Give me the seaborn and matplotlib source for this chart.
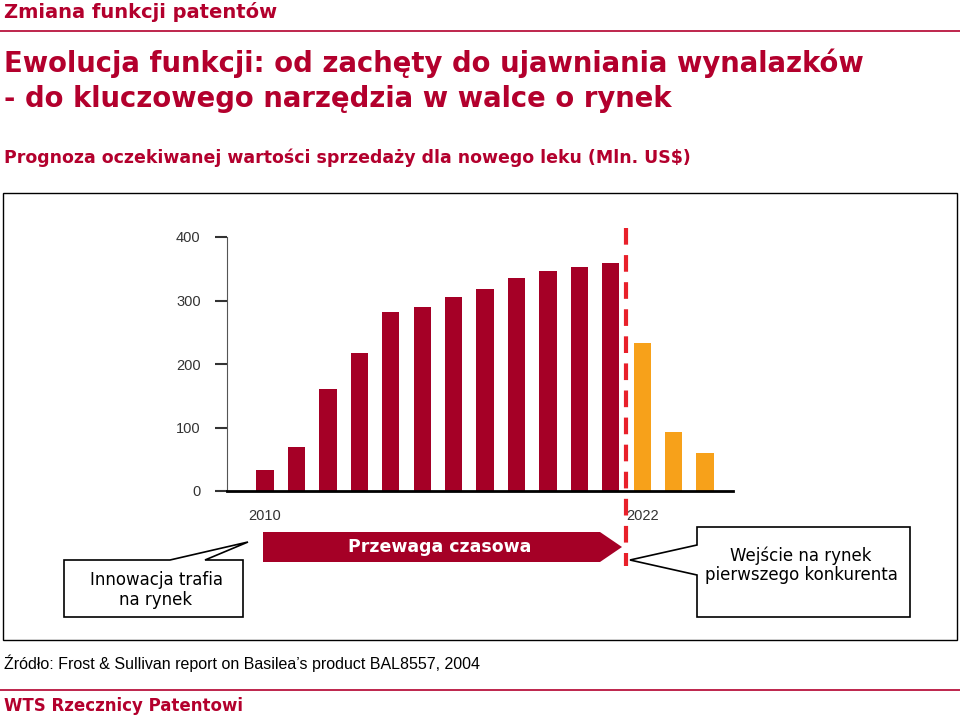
import matplotlib
matplotlib.use("Agg")
import matplotlib.pyplot as plt
import seaborn as sns
import pandas as pd
from matplotlib.patches import Rectangle, Polygon

years = [str(y) for y in range(2010, 2025)]
values = [33, 69, 161, 217, 282, 290, 305, 318, 335, 346, 353, 359, 233, 93, 60]
phase = ["przed"] * 12 + ["po"] * 3
yticks = [0, 100, 200, 300, 400]

RED = "#A50026"
ORANGE = "#F7A11A"
TITLE = "#B3002D"

W, H = 960, 717
fig = plt.figure(figsize=(9.6, 7.17), dpi=100)

def fx(x):
    return x / W

def fy(y):
    return 1 - y / H

# naglowki
fig.text(fx(4), fy(12), "Zmiana funkcji patentów", color=TITLE, fontsize=14, fontweight="bold", va="center")
fig.add_artist(plt.Line2D([fx(0), fx(960)], [fy(31), fy(31)], color=TITLE, lw=1.2))
fig.text(fx(4), fy(63), "Ewolucja funkcji: od zachęty do ujawniania wynalazków", color=TITLE, fontsize=19.8, fontweight="bold", va="center")
fig.text(fx(4), fy(99), "- do kluczowego narzędzia w walce o rynek", color=TITLE, fontsize=19.8, fontweight="bold", va="center")
fig.text(fx(4), fy(158), "Prognoza oczekiwanej wartości sprzedaży dla nowego leku (Mln. US$)", color=TITLE, fontsize=12.5, fontweight="bold", va="center")

fig.add_artist(Rectangle((fx(3), fy(640)), fx(954), (640 - 193) / H, fill=False, ec="black", lw=1, transform=fig.transFigure))

# wykres
ax = fig.add_axes([fx(227), fy(491), fx(733 - 227), (491 - 237) / H])
df = pd.DataFrame({"rok": years, "wartosc": values, "faza": phase})
sns.barplot(data=df, x="rok", y="wartosc", hue="faza", palette={"przed": RED, "po": ORANGE},
            order=years, width=0.55, dodge=False, legend=False, saturation=1, ax=ax)
ax.set_xlim(-1.21, 14.89)
ax.set_ylim(0, 400)
ax.set_yticks(yticks)
ax.set_xticks([])
ax.set_xlabel("")
ax.set_ylabel("")
ax.tick_params(axis="y", direction="out", length=9, width=1.5, pad=10, labelsize=10.5, colors="#333333")
for t in ax.get_yticklabels():
    t.set_fontfamily("Liberation Sans")
for s in ["top", "right"]:
    ax.spines[s].set_visible(False)
ax.spines["left"].set_color("#555555")
ax.spines["bottom"].set_linewidth(2)
ax.text(0, -0.1, "2010", transform=ax.get_xaxis_transform(), ha="center", va="center", fontsize=10.5, color="#333333", family="Liberation Sans")
ax.text(12, -0.1, "2022", transform=ax.get_xaxis_transform(), ha="center", va="center", fontsize=10.5, color="#333333", family="Liberation Sans")

# linia przerywana
fig.add_artist(plt.Line2D([fx(626), fx(626)], [fy(228), fy(566)], color="#E8202A", lw=3, ls=(0, (4, 2.5))))

# strzalka
fig.add_artist(Polygon([(fx(263), fy(532)), (fx(600), fy(532)), (fx(622), fy(547)), (fx(600), fy(562)), (fx(263), fy(562))],
                       closed=True, fc=RED, ec="none", transform=fig.transFigure))
fig.text(fx(440), fy(547), "Przewaga czasowa", color="white", fontsize=12.5, fontweight="bold", ha="center", va="center")

# dymki
fig.add_artist(Polygon([(fx(64), fy(560)), (fx(170), fy(560)), (fx(248), fy(542)), (fx(205), fy(560)), (fx(243), fy(560)),
                        (fx(243), fy(617)), (fx(64), fy(617))], closed=True, fc="white", ec="black", lw=1.2, transform=fig.transFigure))
fig.text(fx(156), fy(590), "Innowacja trafia\nna rynek", fontsize=12, ha="center", va="center", linespacing=1.1)
fig.add_artist(Polygon([(fx(697), fy(527)), (fx(910), fy(527)), (fx(910), fy(617)), (fx(697), fy(617)), (fx(697), fy(575)),
                        (fx(630), fy(560)), (fx(697), fy(545))], closed=True, fc="white", ec="black", lw=1.2, transform=fig.transFigure))
fig.text(fx(801), fy(565), "Wejście na rynek\npierwszego konkurenta", fontsize=12, ha="center", va="center", linespacing=1.1)

# stopka
fig.text(fx(4), fy(663), "Źródło: Frost & Sullivan report on Basilea’s product BAL8557, 2004", fontsize=11.5, va="center", family="Liberation Sans")
fig.add_artist(plt.Line2D([fx(0), fx(960)], [fy(690), fy(690)], color=TITLE, lw=1.2))
fig.text(fx(4), fy(706), "WTS Rzecznicy Patentowi", color=TITLE, fontsize=12, fontweight="bold", va="center")

fig.savefig("out.png", dpi=100)
